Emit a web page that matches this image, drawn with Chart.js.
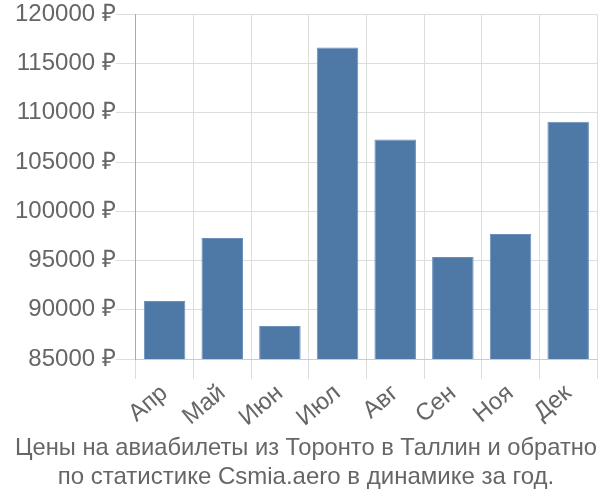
<!DOCTYPE html>
<html>
<head>
<meta charset="utf-8">
<script src="https://cdn.jsdelivr.net/npm/chart.js@4/dist/chart.umd.min.js"></script>
<style>
    html, body { margin: 0; padding: 0; background: #fff; }
    #wrap { width: 600px; height: 500px; }
</style>
</head>
<body>
<div id="wrap"><canvas id="price-chart" width="600" height="500"></canvas></div>
<script>
// Данные графика
const months = ['Апр', 'Май', 'Июн', 'Июл', 'Авг', 'Сен', 'Ноя', 'Дек'];
const prices = [90900, 97300, 88350, 116650, 107300, 95350, 97700, 109100];
const titleLines = [
    'Цены на авиабилеты из Торонто в Таллин и обратно',
    'по статистике Csmia.aero в динамике за год.'
];

Chart.defaults.font.family = '"Liberation Sans", Arial, sans-serif';
Chart.defaults.color = '#666';

const ctx = document.getElementById('price-chart');
new Chart(ctx, {
    type: 'bar',
    data: {
        labels: months,
        datasets: [{
            data: prices,
            backgroundColor: '#4e79a7',
            borderColor: '#6a8fba',
            borderWidth: 1,
            categoryPercentage: 1,
            barPercentage: 0.72
        }]
    },
    options: {
        responsive: false,
        animation: false,
        layout: { padding: { top: 6, right: 3, left: 15, bottom: 0 } },
        scales: {
            x: {
                grid: { color: '#ddd', offset: true, tickLength: 20 },
                border: { color: '#ccc' },
                ticks: { font: { size: 24 }, maxRotation: 40, minRotation: 40, padding: 0 },
                // ось чуть ниже, как в оригинале
                afterFit: scale => { scale.height -= 6; }
            },
            y: {
                min: 85000,
                max: 120000,
                grid: { color: '#ddd', tickLength: 20 },
                border: { color: '#aaa' },
                ticks: {
                    stepSize: 5000,
                    font: { size: 24 },
                    padding: 0,
                    callback: v => v + ' ₽'
                }
            }
        },
        plugins: {
            legend: { display: false },
            tooltip: { enabled: false },
            title: {
                display: true,
                position: 'bottom',
                text: titleLines,
                font: { size: 24, weight: 'normal' },
                color: '#666',
                padding: { top: 8, bottom: 8 }
            }
        }
    }
});
</script>
</body>
</html>
